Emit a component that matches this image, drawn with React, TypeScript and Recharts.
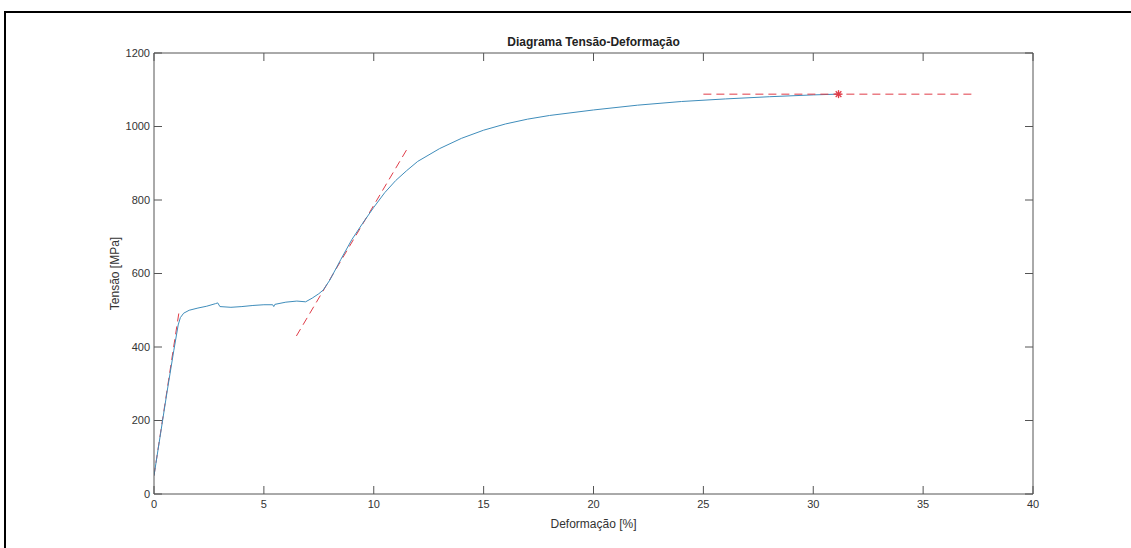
import React from 'react';
import { ComposedChart, Line, Scatter, XAxis, YAxis } from 'recharts';

const curveX = [0, 0.3, 0.6, 0.9, 1.1, 1.2, 1.35, 1.6, 2.0, 2.4, 2.8, 2.9, 3.0, 3.5, 4.0, 4.5, 5.0, 5.4, 5.45, 5.5, 6.0, 6.5, 6.9, 7.2, 7.5, 7.7, 8.0, 8.5, 9.0, 9.5, 10.0, 10.5, 11.0, 11.5, 12.0, 13, 14, 15, 16, 17, 18, 20, 22, 24, 26, 28, 30, 31.1];
const curveY = [50, 165, 280, 390, 460, 480, 492, 500, 506, 511, 518, 520, 510, 508, 510, 513, 515, 515, 510, 516, 522, 525, 523, 533, 545, 555, 582, 638, 692, 737, 780, 820, 853, 880, 905, 940, 968, 990, 1007, 1020, 1030, 1045, 1058, 1068, 1075, 1081, 1086, 1088];

const elasticX = [0, 1.15];
const elasticY = [50, 500];
const hardeningX = [6.48, 11.49];
const hardeningY = [430, 936];
const ultimateX = [25, 37.4];
const ultimateY = [1088, 1088];
const peakX = [31.15];
const peakY = [1088];

const xTicks = [0, 5, 10, 15, 20, 25, 30, 35, 40];
const yTicks = [0, 200, 400, 600, 800, 1000, 1200];

const title = 'Diagrama Tensão-Deformação';
const xLabel = 'Deformação [%]';
const yLabel = 'Tensão [MPa]';

const zip = (xs: number[], ys: number[]) => xs.map((x, i) => ({ x, y: ys[i] }));

const curveData = zip(curveX, curveY);
const elasticData = zip(elasticX, elasticY);
const hardeningData = zip(hardeningX, hardeningY);
const ultimateData = zip(ultimateX, ultimateY);
const peakData = zip(peakX, peakY);

const FONT = '"Liberation Sans", Arial, Helvetica, sans-serif';
const AXIS = '#555555';
const BLUE = '#3f8dbb';
const RED = '#e03c48';

const Asterisk = (props: any) => {
  const { cx, cy } = props;
  const r = 4;
  const d = r * 0.707;
  return (
    <g stroke={RED} strokeWidth={1.3}>
      <line x1={cx - r} y1={cy} x2={cx + r} y2={cy} />
      <line x1={cx} y1={cy - r} x2={cx} y2={cy + r} />
      <line x1={cx - d} y1={cy - d} x2={cx + d} y2={cy + d} />
      <line x1={cx - d} y1={cy + d} x2={cx + d} y2={cy - d} />
    </g>
  );
};

export default function App() {
  const tickStyle = { fontSize: 11, fill: '#333333', fontFamily: FONT };
  return (
    <div style={{ position: 'absolute', left: 0, top: 0, width: 1131, height: 548, background: '#fff', overflow: 'hidden' }}>
      <div style={{ position: 'absolute', left: 4, top: 11, width: 1200, height: 600, borderTop: '2px solid #000', borderLeft: '2px solid #000' }} />
      <div style={{ position: 'absolute', left: 154, width: 879, top: 35, textAlign: 'center', fontFamily: FONT, fontWeight: 'bold', fontSize: 12, color: '#222' }}>
        {title}
      </div>
      <div style={{ position: 'absolute', left: 0, top: 0 }}>
        <ComposedChart width={1131} height={548} margin={{ top: 23, right: 68, bottom: 0, left: 0 }}>
          <XAxis
            xAxisId="bottom"
            dataKey="x"
            type="number"
            domain={[0, 40]}
            ticks={xTicks}
            orientation="bottom"
            height={54}
            stroke={AXIS}
            tickSize={-8}
            tickMargin={14}
            tick={tickStyle}
            allowDataOverflow
            label={{ value: xLabel, position: 'insideBottom', offset: 20, style: { fontSize: 12, fill: '#333', fontFamily: FONT } }}
          />
          <XAxis
            xAxisId="top"
            dataKey="x"
            type="number"
            domain={[0, 40]}
            ticks={xTicks}
            orientation="top"
            height={30}
            stroke={AXIS}
            tickSize={-8}
            tickFormatter={() => ''}
            allowDataOverflow
          />
          <YAxis
            yAxisId="left"
            type="number"
            domain={[0, 1200]}
            ticks={yTicks}
            orientation="left"
            width={154}
            stroke={AXIS}
            tickSize={-8}
            tickMargin={12}
            tick={tickStyle}
            allowDataOverflow
            label={{ value: yLabel, angle: -90, position: 'insideLeft', offset: 115, style: { textAnchor: 'middle', fontSize: 12, fill: '#333', fontFamily: FONT } }}
          />
          <YAxis
            yAxisId="right"
            type="number"
            domain={[0, 1200]}
            ticks={yTicks}
            orientation="right"
            width={30}
            stroke={AXIS}
            tickSize={-8}
            tickFormatter={() => ''}
            allowDataOverflow
          />
          <Line
            xAxisId="bottom"
            yAxisId="left"
            data={elasticData}
            dataKey="y"
            type="linear"
            stroke={RED}
            strokeWidth={1}
            strokeDasharray="8 5"
            dot={false}
            activeDot={false}
            isAnimationActive={false}
          />
          <Line
            xAxisId="bottom"
            yAxisId="left"
            data={hardeningData}
            dataKey="y"
            type="linear"
            stroke={RED}
            strokeWidth={1}
            strokeDasharray="8 5"
            dot={false}
            activeDot={false}
            isAnimationActive={false}
          />
          <Line
            xAxisId="bottom"
            yAxisId="left"
            data={curveData}
            dataKey="y"
            type="linear"
            stroke={BLUE}
            strokeWidth={1}
            dot={false}
            activeDot={false}
            isAnimationActive={false}
          />
          <Line
            xAxisId="bottom"
            yAxisId="left"
            data={ultimateData}
            dataKey="y"
            type="linear"
            stroke={RED}
            strokeWidth={1}
            strokeDasharray="8 5"
            dot={false}
            activeDot={false}
            isAnimationActive={false}
          />
          <Scatter
            xAxisId="bottom"
            yAxisId="left"
            data={peakData}
            dataKey="y"
            shape={<Asterisk />}
            isAnimationActive={false}
          />
        </ComposedChart>
      </div>
    </div>
  );
}
